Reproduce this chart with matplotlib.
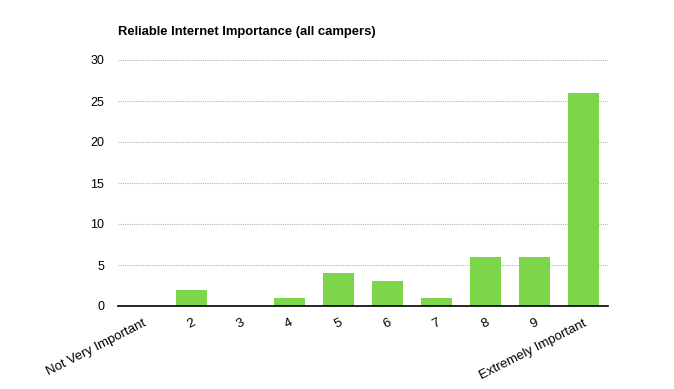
import matplotlib.pyplot as plt

plt.rcParams['font.family'] = ['Liberation Sans', 'DejaVu Sans']

CATEGORIES = ["Not Very Important", "2", "3", "4", "5", "6", "7", "8", "9", "Extremely Important"]
COUNTS = [0, 2, 0, 1, 4, 3, 1, 6, 6, 26]
Y_TICKS = [0, 5, 10, 15, 20, 25, 30]


def main():
    fig = plt.figure(figsize=(6.74, 3.89), dpi=100)
    ax = fig.add_axes([118 / 674, 1 - 306 / 389, 490 / 674, 246 / 389])

    x = list(range(len(CATEGORIES)))
    ax.bar(x, COUNTS, width=0.62, color='#7dd64a', zorder=3)

    ax.set_xlim(-0.5, len(CATEGORIES) - 0.5)
    ax.set_ylim(0, 30)
    ax.set_yticks(Y_TICKS)
    ax.set_yticklabels([str(v) for v in Y_TICKS], fontsize=9)
    ax.set_xticks(x)
    ax.set_xticklabels(CATEGORIES, rotation=27, ha='right', rotation_mode='anchor', fontsize=9.5)

    ax.grid(axis='y', color='#c4aec4', linestyle=(0, (1, 1)), linewidth=0.8, zorder=0)
    for side in ['top', 'right', 'left']:
        ax.spines[side].set_visible(False)
    ax.spines['bottom'].set_color('black')
    ax.spines['bottom'].set_linewidth(1.2)
    ax.spines['bottom'].set_zorder(4)
    ax.tick_params(axis='x', length=0, pad=8)
    ax.tick_params(axis='y', length=0, pad=10)

    fig.text(118 / 674, 1 - 32 / 389, "Reliable Internet Importance (all campers)",
             fontsize=9.4, fontweight='bold', va='center', ha='left')

    fig.savefig("out.png", dpi=100, facecolor='white')


if __name__ == "__main__":
    main()
